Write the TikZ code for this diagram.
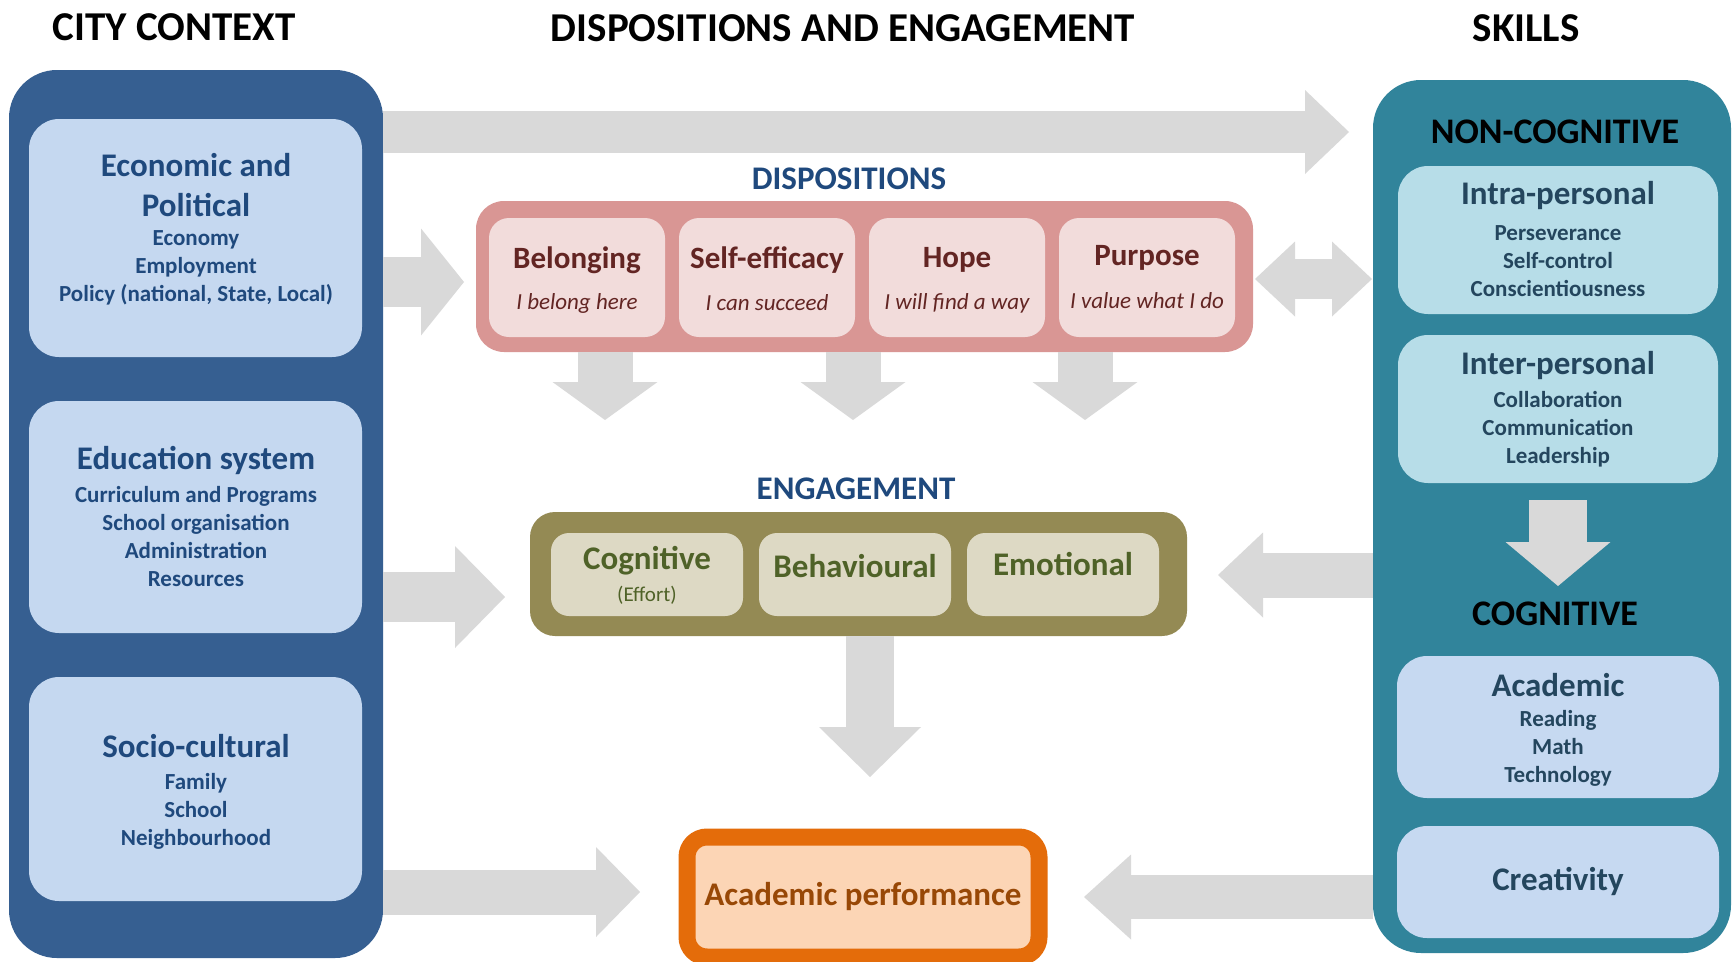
\documentclass[tikz,border=0pt]{standalone}
\usepackage{fontspec}
\setmainfont{Carlito}
\usetikzlibrary{arrows.meta,positioning}

\definecolor{ctxblue}{RGB}{54,95,145}
\definecolor{ctxfill}{RGB}{197,216,240}
\definecolor{ctxtext}{RGB}{31,73,125}
\definecolor{skillteal}{RGB}{49,132,155}
\definecolor{noncogfill}{RGB}{183,221,232}
\definecolor{cogfill}{RGB}{198,217,241}
\definecolor{skilltext}{RGB}{36,70,94}
\definecolor{disprose}{RGB}{217,150,148}
\definecolor{dispfill}{RGB}{242,220,219}
\definecolor{disptext}{RGB}{99,37,35}
\definecolor{engolive}{RGB}{148,138,84}
\definecolor{engfill}{RGB}{221,217,196}
\definecolor{engtext}{RGB}{79,98,40}
\definecolor{perforange}{RGB}{228,108,10}
\definecolor{perffill}{RGB}{252,213,181}
\definecolor{perftext}{RGB}{152,72,6}
\definecolor{flowgrey}{RGB}{217,217,217}
\definecolor{labelblue}{RGB}{31,73,125}

\newcommand\hdfont{\fontsize{41}{48}\selectfont\bfseries}
\newcommand\grpfont{\fontsize{36}{43}\selectfont\bfseries}
\newcommand\lblfont{\fontsize{33}{40}\selectfont\bfseries}
\newcommand\ttlfont{\fontsize{33}{40}\selectfont\bfseries}
\newcommand\chipfont{\fontsize{31}{38}\selectfont\bfseries}
\newcommand\itmfont{\fontsize{23}{28}\selectfont\bfseries}
\newcommand\motfont{\fontsize{23}{27}\selectfont\itshape}

\begin{document}
\begin{tikzpicture}[x=1pt,y=-1pt,
  panel/.style={anchor=north west, inner sep=0pt, outer sep=0pt, rounded corners=48pt},
  card/.style={anchor=north west, inner sep=0pt, outer sep=0pt, rounded corners=30pt},
  chip/.style={anchor=north west, inner sep=0pt, outer sep=0pt, rounded corners=20pt},
  heading/.style={font=\hdfont, text=black},
  group/.style={font=\grpfont, text=black},
  label/.style={font=\lblfont, text=labelblue},
  cardtitle/.style={font=\ttlfont, align=center},
  carditems/.style={font=\itmfont, align=center},
  chiptitle/.style={font=\chipfont},
  motto/.style={font=\motfont, text=disptext},
  flow/.style n args={3}{draw=flowgrey, line width=#1,
    -{Triangle[length=#2, width=#3, line width=0pt]}},
  flowboth/.style n args={3}{draw=flowgrey, line width=#1,
    {Triangle[length=#2, width=#3, line width=0pt]}-{Triangle[length=#2, width=#3, line width=0pt]}}]

\path[fill=white, use as bounding box] (0,0) rectangle (1734,961);

\node[heading] (cityhd) at (174,27) {CITY CONTEXT};
\node[heading] (midhd) at (843,28) {DISPOSITIONS AND ENGAGEMENT};
\node[heading] (skillhd) at (1526,28) {SKILLS};

% city context column
\node[panel, fill=ctxblue, minimum width=374pt, minimum height=888pt] (ctx) at (9,70) {};
\node[card, fill=ctxfill, minimum width=333pt, minimum height=238pt] (econ) at (29,119) {};
\node[card, fill=ctxfill, minimum width=333pt, minimum height=232pt] (edu) at (29,401) {};
\node[card, fill=ctxfill, minimum width=333pt, minimum height=224pt] (socio) at (29,677) {};

\node[cardtitle, text=ctxtext] (econ-t) at (196,185) {Economic and\\Political};
\node[carditems, text=ctxtext] (econ-i) at (196,268) {Economy\\Employment\\Policy (national, State, Local)};
\node[cardtitle, text=ctxtext] (edu-t) at (196,460) {Education system};
\node[carditems, text=ctxtext] (edu-i) at (196,537) {Curriculum and Programs\\School organisation\\Administration\\Resources};
\node[cardtitle, text=ctxtext] (socio-t) at (196,746) {Socio-cultural};
\node[carditems, text=ctxtext] (socio-i) at (196,811) {Family\\School\\Neighbourhood};

% dispositions
\node[label] (displabel) at (849,179) {DISPOSITIONS};
\node[chip, fill=disprose, rounded corners=28pt, minimum width=777pt, minimum height=151pt] (disp) at (476,201) {};
\node[chip, fill=dispfill, minimum width=176pt, minimum height=119pt] (belong) at (489,218) {};
\node[chip, fill=dispfill, minimum width=176pt, minimum height=119pt, right=14pt of belong] (selfeff) {};
\node[chip, fill=dispfill, minimum width=176pt, minimum height=119pt, right=14pt of selfeff] (hope) {};
\node[chip, fill=dispfill, minimum width=176pt, minimum height=119pt, right=14pt of hope] (purpose) {};

\node[chiptitle, text=disptext] (belong-t) at (belong |- 0,260) {Belonging};
\node[motto] (belong-m) at (belong |- 0,303) {I belong here};
\node[chiptitle, text=disptext] (selfeff-t) at (selfeff |- 0,260) {Self-efficacy};
\node[motto] (selfeff-m) at (selfeff |- 0,303) {I can succeed};
\node[chiptitle, text=disptext] (hope-t) at (hope |- 0,260) {Hope};
\node[motto] (hope-m) at (hope |- 0,303) {I will find a way};
\node[chiptitle, text=disptext] (purpose-t) at (purpose |- 0,258) {Purpose};
\node[motto] (purpose-m) at (purpose |- 0,301) {I value what I do};

% engagement
\node[label] (englabel) at (856,489) {ENGAGEMENT};
\node[chip, fill=engolive, rounded corners=25pt, minimum width=657pt, minimum height=124pt] (eng) at (530,512) {};
\node[chip, fill=engfill, rounded corners=18pt, minimum width=192pt, minimum height=83pt] (cogn) at (551,533) {};
\node[chip, fill=engfill, rounded corners=18pt, minimum width=192pt, minimum height=83pt, right=16pt of cogn] (behav) {};
\node[chip, fill=engfill, rounded corners=18pt, minimum width=192pt, minimum height=83pt, right=16pt of behav] (emot) {};

\node[chiptitle, font=\ttlfont, text=engtext] (cogn-t) at (cogn |- 0,561) {Cognitive};
\node[font=\fontsize{21}{26}\selectfont, text=engtext] (cogn-m) at (cogn |- 0,595) {(Effort)};
\node[chiptitle, font=\ttlfont, text=engtext] (behav-t) at (behav |- 0,566) {Behavioural};
\node[chiptitle, font=\ttlfont, text=engtext] (emot-t) at (emot |- 0,564) {Emotional};

% outcome
\node[anchor=north west, outer sep=0pt, fill=perffill, draw=perforange, line width=17pt,
  rounded corners=20pt, minimum width=352pt, minimum height=120pt,
  font=\ttlfont, text=perftext] (perf) at (687,837) {Academic performance};

% skills column
\node[panel, fill=skillteal, minimum width=358pt, minimum height=873pt] (skills) at (1373,80) {};
\node[group] (noncog) at (1555,132) {NON-COGNITIVE};
\node[card, fill=noncogfill, minimum width=320pt, minimum height=148pt] (intra) at (1398,166) {};
\node[card, fill=noncogfill, minimum width=320pt, minimum height=148pt] (inter) at (1398,335) {};
\node[group] (cog) at (1555,614) {COGNITIVE};
\node[card, fill=cogfill, minimum width=322pt, minimum height=142pt] (acad) at (1397,656) {};
\node[card, fill=cogfill, minimum width=322pt, minimum height=112pt] (creat) at (1397,826) {};

\node[cardtitle, text=skilltext] (intra-t) at (intra |- 0,196) {Intra-personal};
\node[carditems, text=skilltext] (intra-i) at (intra |- 0,261) {Perseverance\\Self-control\\Conscientiousness};
\node[cardtitle, text=skilltext] (inter-t) at (inter |- 0,366) {Inter-personal};
\node[carditems, text=skilltext] (inter-i) at (inter |- 0,429) {Collaboration\\Communication\\Leadership};
\node[cardtitle, text=skilltext] (acad-t) at (acad |- 0,685) {Academic};
\node[carditems, text=skilltext] (acad-i) at (acad |- 0,748) {Reading\\Math\\Technology};
\node[cardtitle, text=skilltext] (creat-t) at (creat |- 0,881) {Creativity};

% grey flows
\draw[flow={42pt}{44pt}{84pt}, shorten >=24pt] (ctx.east |- 0,132) -- (skills.west |- 0,132);
\draw[flow={50pt}{43pt}{107pt}, shorten >=12pt] (ctx.east |- 0,282) -- (disp.west |- 0,282);
\draw[flowboth={40pt}{40pt}{75pt}, shorten <=2pt, shorten >=1pt] (disp.east |- 0,279) -- (skills.west |- 0,279);
\draw[flow={50pt}{50pt}{102pt}, shorten >=25pt] (ctx.east |- 0,597) -- (eng.west |- 0,597);
\draw[flow={45pt}{45pt}{85pt}, shorten >=31pt] (skills.west |- 0,575) -- (eng.east |- 0,575);
\draw[flow={45pt}{44pt}{90pt}, shorten >=47pt] (ctx.east |- 0,892) -- (perf.west |- 0,892);
\draw[flow={44pt}{47pt}{85pt}, shorten >=45pt] (skills.west |- 0,897) -- (perf.east |- 0,897);
\foreach \x in {605,853,1085}
  \draw[flow={55pt}{38pt}{105pt}, shorten >=92pt] (disp.south -| \x,0) -- (eng.north -| \x,0);
\draw[flow={48pt}{50pt}{102pt}, shorten >=60pt] (eng.south -| 870,0) -- (perf.north -| 870,0);
\draw[flow={58pt}{44pt}{105pt}, shorten <=17pt, shorten >=28pt] (inter.south) -- (inter.south |- cog.center);

\end{tikzpicture}
\end{document}
